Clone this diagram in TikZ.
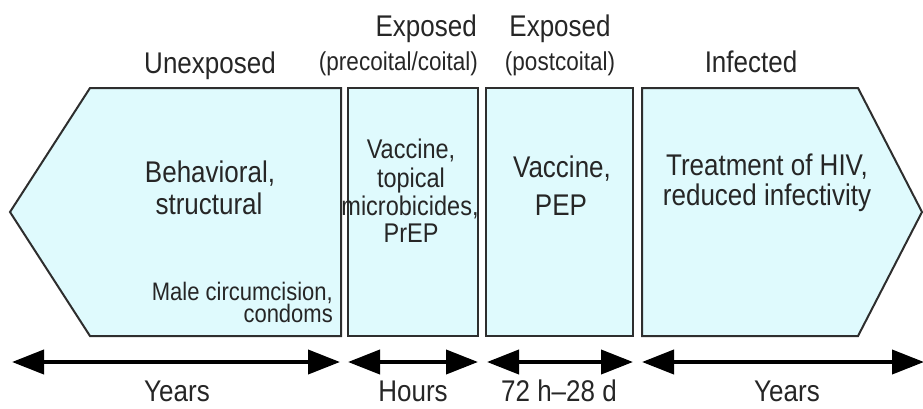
\documentclass[tikz,border=0pt]{standalone}
\usepackage{fontspec}
\setmainfont{Liberation Sans}
\usetikzlibrary{arrows.meta}
\definecolor{boxfill}{HTML}{DFFAFD}
\definecolor{edge}{HTML}{2E2E2E}
\definecolor{ink}{HTML}{262626}
\newcommand{\tallt}[1]{\scalebox{1}[1.15]{#1}}
\newcommand{\tightlines}{\lineskiplimit=-100pt\relax}
\begin{document}
\begin{tikzpicture}[x=1pt,y=-1pt,
  stage/.style={draw=edge,line width=2pt,fill=boxfill,line join=miter},
  bigtxt/.style={font=\fontsize{26}{30}\selectfont,text=ink,inner sep=0pt,anchor=base},
  midtxt/.style={font=\fontsize{23.5}{28}\selectfont,text=ink,inner sep=0pt,anchor=base},
  smalltxt/.style={font=\fontsize{22.5}{26}\selectfont,text=ink,inner sep=0pt,anchor=base},
  span/.style={line width=4pt,draw=black,{Triangle[length=32pt,width=24pt]}-{Triangle[length=32pt,width=24pt]}}]
\useasboundingbox (0,0) rectangle (923,408);
% boxes
\draw[stage] (90,88) -- (341,88) -- (341,336) -- (90,336) -- (10,212) -- cycle;
\draw[stage] (348,88) rectangle (478,336);
\draw[stage] (486,88) rectangle (633,336);
\draw[stage] (642,88) -- (858,88) -- (922,212) -- (858,336) -- (642,336) -- cycle;
% top labels
\node[bigtxt] (t1) at (210,73) {\tallt{Unexposed}};
\node[bigtxt,anchor=base east] (t2a) at (477,36) {\tallt{Exposed}};
\node[smalltxt,anchor=base east] (t2b) at (478,70) {\tallt{(precoital/coital)}};
\node[bigtxt] (t3a) at (560,36) {\tallt{Exposed}};
\node[smalltxt] (t3b) at (560,70) {\tallt{(postcoital)}};
\node[bigtxt] (t4) at (751,72) {\tallt{Infected}};
% inner texts
\node[bigtxt] (b1a) at (210,182) {\tallt{Behavioral,}};
\node[bigtxt] (b1b) at (209,214) {\tallt{structural}};
\node[font=\fontsize{22}{22}\selectfont\tightlines,text=ink,inner sep=0pt,
      align=right,anchor=south east] (b1c) at (333,323)
      {\tallt{Male circumcision,}\\\tallt{condoms}};
\node[midtxt] (b2a) at (411,158) {\tallt{Vaccine,}};
\node[midtxt] (b2b) at (411,187) {\tallt{topical}};
\node[midtxt] (b2c) at (410,215) {\tallt{microbicides,}};
\node[midtxt] (b2d) at (411,242) {\tallt{PrEP}};
\node[bigtxt] (b3a) at (562,177) {\tallt{Vaccine,}};
\node[bigtxt] (b3b) at (561,215) {\tallt{PEP}};
\node[bigtxt] (b4a) at (767,175) {\tallt{Treatment of HIV,}};
\node[bigtxt] (b4b) at (767,205) {\tallt{reduced infectivity}};
% arrows
\coordinate (a1l) at (12,362); \coordinate (a1r) at (340,362);
\coordinate (a2l) at (348,362); \coordinate (a2r) at (478,362);
\coordinate (a3l) at (487,362); \coordinate (a3r) at (633,362);
\coordinate (a4l) at (642,362); \coordinate (a4r) at (924,362);
\draw[span] (a1l) -- (a1r);
\draw[span] (a2l) -- (a2r);
\draw[span] (a3l) -- (a3r);
\draw[span] (a4l) -- (a4r);
% bottom labels
\node[bigtxt] (l1) at (177,401) {\tallt{Years}};
\node[bigtxt] (l2) at (413,401) {\tallt{Hours}};
\node[bigtxt] (l3) at (559,401) {\tallt{72 h–28 d}};
\node[bigtxt] (l4) at (787,401) {\tallt{Years}};
\end{tikzpicture}
\end{document}
